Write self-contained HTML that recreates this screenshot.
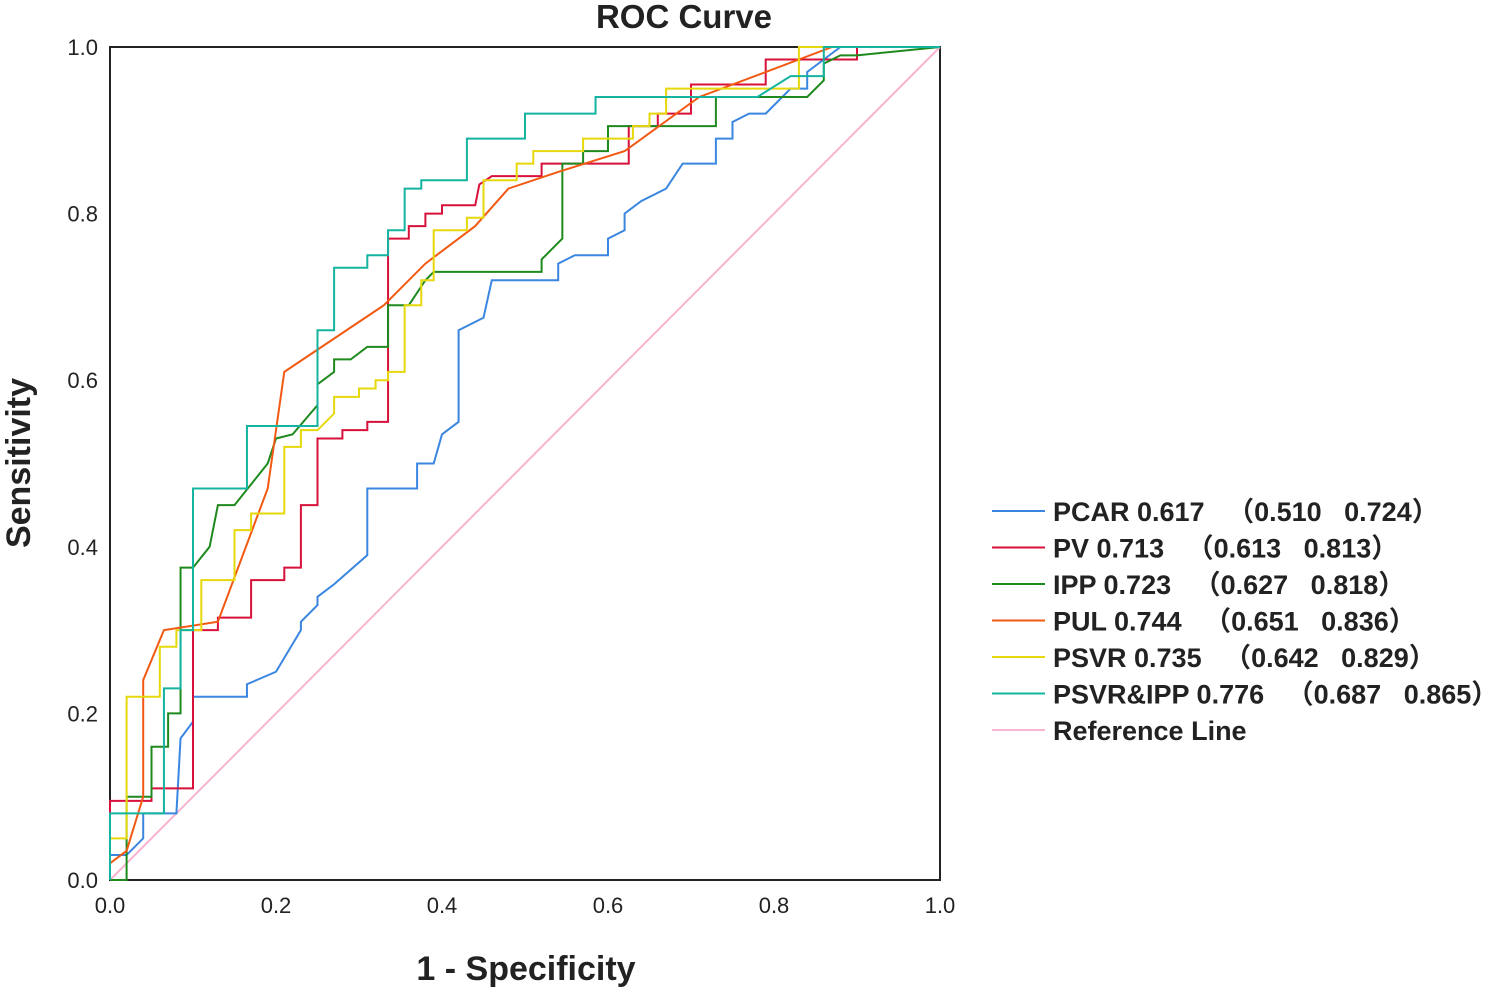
<!DOCTYPE html>
<html><head><meta charset="utf-8"><style>
body{margin:0;background:#fff;}
svg{display:block;font-family:"Liberation Sans","Noto Sans CJK SC",sans-serif;}
</style></head><body>
<svg width="1493" height="990" xmlns="http://www.w3.org/2000/svg">
<text x="684" y="28" font-size="33" font-weight="bold" text-anchor="middle" fill="#222">ROC Curve</text>
<rect x="110" y="47" width="830" height="833" fill="none" stroke="#222" stroke-width="2"/>
<g id="ticks"></g>
<g id="series"></g>
<g id="legend"></g>
<text x="526" y="980" font-size="34" font-weight="bold" text-anchor="middle" fill="#222">1 - Specificity</text>
<text transform="translate(30,463) rotate(-90)" font-size="34" font-weight="bold" text-anchor="middle" fill="#222">Sensitivity</text>
</svg>
<script>
const ticks=[0,0.2,0.4,0.6,0.8,1.0];
const tickLabels=["0.0","0.2","0.4","0.6","0.8","1.0"];
const seriesNames=["PCAR","PV","IPP","PUL","PSVR","PSVR&IPP","Reference Line"];
const legendLabels=["PCAR 0.617   （0.510   0.724）","PV 0.713   （0.613   0.813）","IPP 0.723   （0.627   0.818）","PUL 0.744   （0.651   0.836）","PSVR 0.735   （0.642   0.829）","PSVR&IPP 0.776   （0.687   0.865）","Reference Line"];
const pcar=[[0,0],[0,0.03],[0.02,0.03],[0.04,0.05],[0.04,0.08],[0.08,0.08],[0.085,0.17],[0.1,0.19],[0.1,0.22],[0.165,0.22],[0.165,0.235],[0.2,0.25],[0.23,0.3],[0.23,0.31],[0.25,0.33],[0.25,0.34],[0.27,0.355],[0.31,0.39],[0.31,0.47],[0.37,0.47],[0.37,0.5],[0.39,0.5],[0.4,0.535],[0.42,0.55],[0.42,0.66],[0.45,0.675],[0.46,0.72],[0.54,0.72],[0.54,0.74],[0.56,0.75],[0.6,0.75],[0.6,0.77],[0.62,0.78],[0.62,0.8],[0.64,0.815],[0.67,0.83],[0.69,0.86],[0.73,0.86],[0.73,0.89],[0.75,0.89],[0.75,0.91],[0.77,0.92],[0.79,0.92],[0.82,0.95],[0.84,0.95],[0.84,0.97],[0.86,0.985],[0.88,1],[1,1]];
const pv=[[0,0],[0,0.095],[0.05,0.095],[0.05,0.11],[0.1,0.11],[0.1,0.3],[0.13,0.3],[0.13,0.315],[0.17,0.315],[0.17,0.36],[0.21,0.36],[0.21,0.375],[0.23,0.375],[0.23,0.45],[0.25,0.45],[0.25,0.53],[0.28,0.53],[0.28,0.54],[0.31,0.54],[0.31,0.55],[0.335,0.55],[0.335,0.77],[0.36,0.77],[0.36,0.785],[0.38,0.785],[0.38,0.8],[0.4,0.8],[0.4,0.81],[0.44,0.81],[0.445,0.835],[0.46,0.845],[0.52,0.845],[0.52,0.86],[0.625,0.86],[0.625,0.905],[0.66,0.905],[0.66,0.92],[0.7,0.92],[0.7,0.955],[0.79,0.955],[0.79,0.985],[0.9,0.985],[0.9,1],[1,1]];
const ipp=[[0,0],[0.02,0],[0.02,0.1],[0.05,0.1],[0.05,0.16],[0.07,0.16],[0.07,0.2],[0.085,0.2],[0.085,0.375],[0.1,0.375],[0.12,0.4],[0.13,0.45],[0.15,0.45],[0.19,0.5],[0.2,0.53],[0.22,0.535],[0.25,0.57],[0.25,0.595],[0.27,0.61],[0.27,0.625],[0.29,0.625],[0.31,0.64],[0.335,0.64],[0.335,0.69],[0.36,0.69],[0.38,0.72],[0.39,0.73],[0.52,0.73],[0.52,0.745],[0.545,0.77],[0.545,0.86],[0.57,0.86],[0.57,0.875],[0.6,0.875],[0.6,0.905],[0.73,0.905],[0.73,0.94],[0.84,0.94],[0.86,0.96],[0.86,0.98],[0.88,0.99],[0.9,0.99],[1,1]];
const pul=[[0,0.02],[0.02,0.035],[0.04,0.1],[0.04,0.24],[0.065,0.3],[0.13,0.31],[0.19,0.47],[0.21,0.61],[0.33,0.69],[0.38,0.74],[0.44,0.785],[0.48,0.83],[0.54,0.85],[0.62,0.875],[0.71,0.94],[0.87,1],[1,1]];
const psvr=[[0,0],[0,0.05],[0.02,0.05],[0.02,0.22],[0.06,0.22],[0.06,0.28],[0.08,0.28],[0.08,0.3],[0.11,0.3],[0.11,0.36],[0.15,0.36],[0.15,0.42],[0.17,0.42],[0.17,0.44],[0.21,0.44],[0.21,0.52],[0.23,0.52],[0.23,0.54],[0.25,0.54],[0.27,0.56],[0.27,0.58],[0.3,0.58],[0.3,0.59],[0.32,0.59],[0.32,0.6],[0.335,0.6],[0.335,0.61],[0.355,0.61],[0.355,0.69],[0.375,0.69],[0.375,0.72],[0.39,0.72],[0.39,0.78],[0.43,0.78],[0.43,0.795],[0.45,0.795],[0.45,0.84],[0.49,0.84],[0.49,0.86],[0.51,0.86],[0.51,0.875],[0.57,0.875],[0.57,0.89],[0.63,0.89],[0.63,0.905],[0.65,0.905],[0.65,0.92],[0.67,0.92],[0.67,0.95],[0.83,0.95],[0.83,1],[1,1]];
const psvripp=[[0,0],[0,0.08],[0.065,0.08],[0.065,0.23],[0.085,0.23],[0.085,0.3],[0.1,0.3],[0.1,0.47],[0.165,0.47],[0.165,0.545],[0.25,0.545],[0.25,0.66],[0.27,0.66],[0.27,0.735],[0.31,0.735],[0.31,0.75],[0.335,0.75],[0.335,0.78],[0.355,0.78],[0.355,0.83],[0.375,0.83],[0.375,0.84],[0.43,0.84],[0.43,0.89],[0.5,0.89],[0.5,0.92],[0.585,0.92],[0.585,0.94],[0.78,0.94],[0.82,0.965],[0.86,0.965],[0.86,1],[1,1]];
const refLine=[[0,0],[1,1]];
const colors=["#3a86e0","#d8103a","#1e8a1e","#f25a14","#e6d80a","#14b4a0","#f8b4d0"];
const NS="http://www.w3.org/2000/svg";
const X=v=>110+v*830, Y=v=>880-v*833;
const tg=document.getElementById('ticks');
ticks.forEach((t,i)=>{
 let a=document.createElementNS(NS,'text');a.setAttribute('x',X(t));a.setAttribute('y',913);a.setAttribute('font-size','22');a.setAttribute('text-anchor','middle');a.setAttribute('fill','#222');a.textContent=tickLabels[i];
 
 
 tg.appendChild(a);
 let b=document.createElementNS(NS,'text');b.setAttribute('x',98);b.setAttribute('y',Y(t)+8);b.setAttribute('font-size','22');b.setAttribute('text-anchor','end');b.setAttribute('fill','#222');b.textContent=tickLabels[i];
 
 
 tg.appendChild(b);
});
const all=[refLine,pcar,pv,ipp,pul,psvr,psvripp];
const idx=[6,0,1,2,3,4,5];
const sg=document.getElementById('series');
all.forEach((d,k)=>{
 const i=idx[k];
 let p=document.createElementNS(NS,'polyline');
 p.setAttribute('points',d.map(q=>X(q[0])+','+Y(q[1])).join(' '));
 p.setAttribute('fill','none');p.setAttribute('stroke',colors[i]);p.setAttribute('stroke-width','2');
 
 
 sg.appendChild(p);
});
const lg=document.getElementById('legend');
legendLabels.forEach((l,i)=>{
 const y=511+i*36.5;
 let ln=document.createElementNS(NS,'line');ln.setAttribute('x1',992);ln.setAttribute('x2',1045);ln.setAttribute('y1',y);ln.setAttribute('y2',y);ln.setAttribute('stroke',colors[i]);ln.setAttribute('stroke-width','2');
 
 
 lg.appendChild(ln);
 let t=document.createElementNS(NS,'text');t.setAttribute('x',1053);t.setAttribute('y',y+10);t.setAttribute('font-size','27');t.setAttribute('font-weight','bold');t.setAttribute('fill','#222');t.setAttribute('style','white-space:pre');t.textContent=l;
 
 
 lg.appendChild(t);
});
</script>
</body></html>
